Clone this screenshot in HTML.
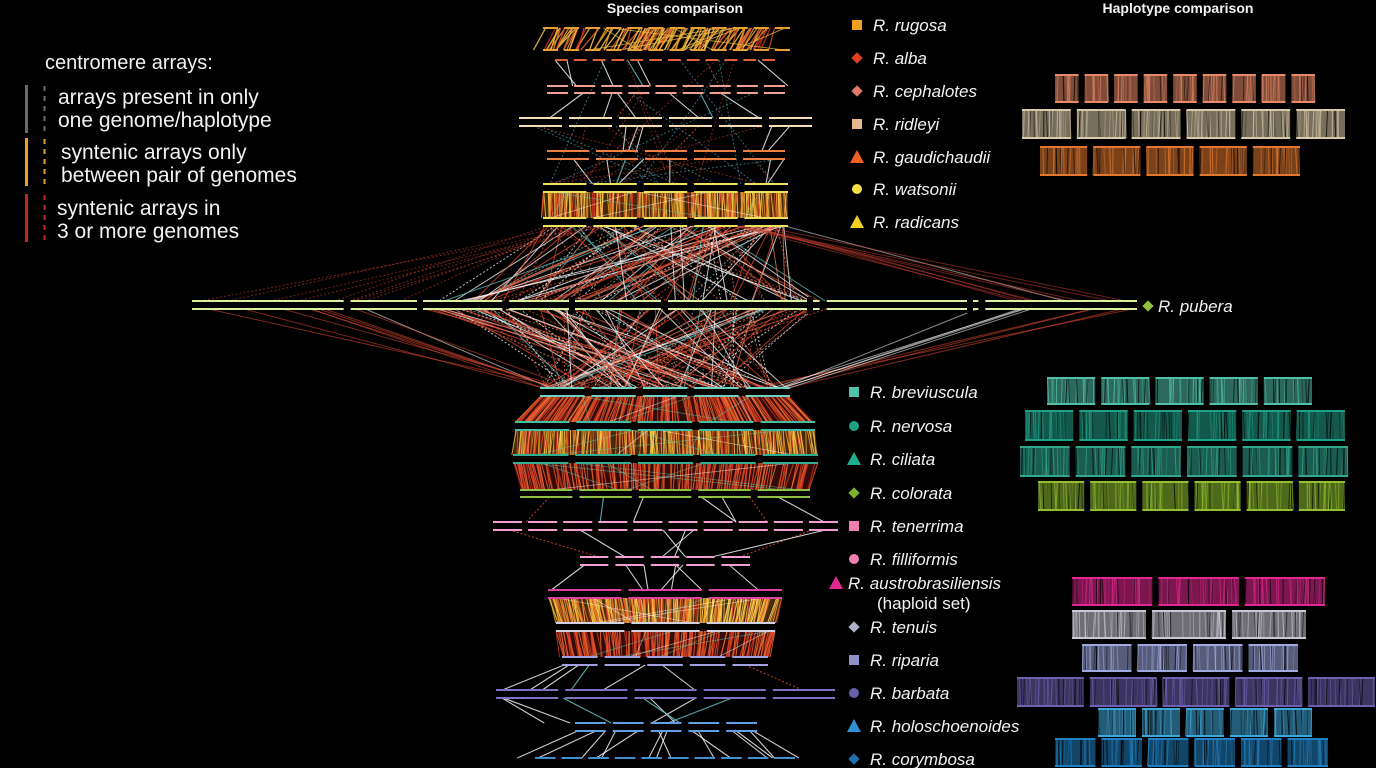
<!DOCTYPE html>
<html><head><meta charset="utf-8"><style>
html,body{margin:0;padding:0;background:#000;width:1376px;height:768px;overflow:hidden}
svg{display:block}
text{font-family:"Liberation Sans",sans-serif}
</style></head><body>
<svg id="s" width="1376" height="768" xmlns="http://www.w3.org/2000/svg">
<rect width="1376" height="768" fill="#000"/>
<g id="links"></g>
<g id="tracks"></g>
<g id="hap"></g>
<text x="45" y="69" fill="#f2f2f2" font-size="20">centromere arrays:</text>
<rect x="25" y="85" width="3" height="48" fill="#6a6a6a"/>
<line x1="44.5" y1="86" x2="44.5" y2="132" stroke="#6a6a6a" stroke-width="2" stroke-dasharray="5,5"/>
<text x="58" y="104" fill="#f2f2f2" font-size="21">arrays present in only</text>
<text x="58" y="127" fill="#f2f2f2" font-size="21">one genome/haplotype</text>
<rect x="25" y="138" width="3" height="48" fill="#e8a030"/>
<line x1="44.5" y1="139" x2="44.5" y2="185" stroke="#e8a030" stroke-width="2" stroke-dasharray="5,5"/>
<text x="61" y="159" fill="#f2f2f2" font-size="21">syntenic arrays only</text>
<text x="61" y="182" fill="#f2f2f2" font-size="21">between pair of genomes</text>
<rect x="25" y="194" width="3" height="48" fill="#c0281e"/>
<line x1="44.5" y1="195" x2="44.5" y2="241" stroke="#c0281e" stroke-width="2" stroke-dasharray="5,5"/>
<text x="57" y="215" fill="#f2f2f2" font-size="21">syntenic arrays in</text>
<text x="57" y="238" fill="#f2f2f2" font-size="21">3 or more genomes</text>
<text x="675" y="13" fill="#f2f2f2" font-size="14" font-weight="bold" text-anchor="middle">Species comparison</text>
<text x="1178" y="13" fill="#f2f2f2" font-size="14" font-weight="bold" text-anchor="middle">Haplotype comparison</text>
<g id="leg" font-size="17" font-style="italic" fill="#f2f2f2"></g>
</svg>
<script>
var NS="http://www.w3.org/2000/svg";
var seed=7;function R(){seed=(seed*16807)%2147483647;return (seed-1)/2147483646;}
function el(p,t,a){var e=document.createElementNS(NS,t);for(var k in a)e.setAttribute(k,a[k]);p.appendChild(e);return e;}
var L=document.getElementById('links'),T=document.getElementById('tracks'),H=document.getElementById('hap'),G=document.getElementById('leg');
var tr=[
 {n:'rug',ys:[28,50],x0:543,x1:790,k:12,c:'#e8a030'},
 {n:'alb',ys:[60],x0:555,x1:775,k:12,c:'#e0603a'},
 {n:'cep',ys:[86,93],x0:547,x1:785,k:9,c:'#f0a090'},
 {n:'rid',ys:[118,126],x0:519,x1:812,k:6,c:'#f4dcb4'},
 {n:'gau',ys:[151,159],x0:547,x1:785,k:5,c:'#f08040'},
 {n:'wat',ys:[184,192],x0:543,x1:788,k:5,c:'#f0e060'},
 {n:'rad',ys:[218,226],x0:543,x1:788,k:5,c:'#f0e060'},
 {n:'pub',ys:[301,309],x0:192,x1:1137,k:6,c:'#d8f0a0'},
 {n:'bre',ys:[388,396],x0:540,x1:790,k:5,c:'#70d0c0'},
 {n:'ner',ys:[422,430],x0:515,x1:815,k:5,c:'#40c0a0'},
 {n:'cil',ys:[455,463],x0:513,x1:818,k:5,c:'#30b090'},
 {n:'col',ys:[490,497],x0:520,x1:810,k:5,c:'#90c040'},
 {n:'ten',ys:[522,530],x0:493,x1:838,k:10,c:'#f0a0d0'},
 {n:'fil',ys:[557,565],x0:580,x1:750,k:5,c:'#f0a0d0'},
 {n:'aus',ys:[590,598],x0:548,x1:782,k:3,c:'#e040a0'},
 {n:'tnu',ys:[623,631],x0:556,x1:775,k:3,c:'#d0d0e0'},
 {n:'rip',ys:[657,665],x0:562,x1:768,k:5,c:'#a0a0e0'},
 {n:'bar',ys:[690,698],x0:496,x1:835,k:5,c:'#8070c0'},
 {n:'hol',ys:[723,731],x0:575,x1:757,k:5,c:'#60a0e0'},
 {n:'cor',ys:[758],x0:535,x1:795,k:10,c:'#4090d0'}
];
function rx(t){return t.x0+R()*(t.x1-t.x0);}
function mapx(x,a,b){return b.x0+(x-a.x0)/(a.x1-a.x0)*(b.x1-b.x0);}
var ix={};tr.forEach(function(t){ix[t.n]=t;});
var dc=['#e04a30','#c83020','#f07030','#e8a030','#f0c040','#ffd050','#e8a030'];
var dr=['#e04a30','#c83020','#f05a30','#d84020','#e87030'];
function dense(a,b,n,cols,fill){var ya=a.ys[a.ys.length-1],yb=b.ys[0];
 el(L,'polygon',{points:a.x0+','+ya+' '+a.x1+','+ya+' '+b.x1+','+yb+' '+b.x0+','+yb,fill:fill,opacity:0.45});
 for(var i=0;i<n;i++){var x=rx(a),x2=mapx(x,a,b)+(R()-0.5)*5;
 el(L,'line',{x1:x,y1:ya,x2:x2,y2:yb,stroke:cols[Math.floor(R()*cols.length)],'stroke-width':1,opacity:0.85});}
 for(var i=0;i<6;i++){el(L,'line',{x1:rx(a),y1:ya,x2:rx(b),y2:yb,stroke:R()<0.5?'#ffffff':'#60d0b0','stroke-width':0.8,opacity:0.5});}}
function sparse(a,b,n){for(var i=0;i<n;i++){var x=rx(a),x2=mapx(x,a,b)+(R()-0.5)*70;
 var c=R()<0.75?'#ffffff':(R()<0.5?'#e04a30':'#70d0d0');var o={x1:x,y1:a.ys[a.ys.length-1],x2:x2,y2:b.ys[0],stroke:c,'stroke-width':1.1,opacity:0.8};
 if(c=='#e04a30')o['stroke-dasharray']='2,2';el(L,'line',o);}}
var seq=['rug','alb','cep','rid','gau','wat','rad','pub','bre','ner','cil','col','ten','fil','aus','tnu','rip','bar','hol','cor'];
for(var i=0;i<seq.length-1;i++){var a=ix[seq[i]],b=ix[seq[i+1]],s=seq[i];
 if(s=='wat')dense(a,b,260,dc,'#a05a10');
 else if(s=='bre')dense(a,b,240,dr,'#701a10');
 else if(s=='ner')dense(a,b,280,dc,'#a05a10');
 else if(s=='cil')dense(a,b,200,dr,'#701a10');
 else if(s=='aus')dense(a,b,280,dc.concat(['#ffe070','#ffb030']),'#a06010');
 else if(s=='tnu')dense(a,b,190,dr,'#701a10');
 else if(s=='rug'){}
 else if(s=='rad'||s=='pub'){}
 else sparse(a,b,s=='hol'?14:7);
}
for(var i=0;i<110;i++){var x=545+R()*243;el(L,'line',{x1:x,y1:28,x2:x-6-R()*14,y2:50,stroke:dc[Math.floor(R()*dc.length)],'stroke-width':1.3,opacity:0.85});}
for(var i=0;i<8;i++){var x=545+R()*243;el(L,'line',{x1:x,y1:28,x2:545+R()*243,y2:50,stroke:'#f0c040','stroke-width':1,opacity:0.7});}
function pl(y1,y2,xa0,xa1,xb0,xb1,n){for(var i=0;i<n;i++){var r=R(),c=r<0.35?'#ffffff':r<0.8?'#e04a30':r<0.9?'#f08060':'#60c0c0';
 var o={x1:xa0+R()*(xa1-xa0),y1:y1,x2:xb0+R()*(xb1-xb0),y2:y2,stroke:c,'stroke-width':1,opacity:0.75};if(R()<0.35)o['stroke-dasharray']='2,2';el(L,'line',o);}}
pl(226,301,543,788,420,830,110);
pl(309,388,420,830,540,790,130);
for(var i=0;i<9;i++){
 el(L,'line',{x1:195+R()*220,y1:301,x2:545+R()*60,y2:226,stroke:'#d04030','stroke-width':1,opacity:0.55,'stroke-dasharray':'2,2'});
 el(L,'line',{x1:1135-R()*160,y1:301,x2:785-R()*60,y2:226,stroke:R()<0.5?'#d04030':'#ffffff','stroke-width':1,opacity:0.5});
 el(L,'line',{x1:195+R()*220,y1:309,x2:540+R()*40,y2:388,stroke:R()<0.5?'#e04a30':'#ffffff','stroke-width':1,opacity:0.55});
 el(L,'line',{x1:1135-R()*160,y1:309,x2:790-R()*40,y2:388,stroke:R()<0.5?'#e04a30':'#ffffff','stroke-width':1,opacity:0.55});}
for(var i=0;i<25;i++){var a=ix[['cep','rid','gau','alb'][Math.floor(R()*4)]];el(L,'line',{x1:rx(a),y1:a.ys[a.ys.length-1],x2:rx(ix['wat']),y2:184,stroke:R()<0.6?'#d04030':'#60c0d0','stroke-width':1,opacity:0.55,'stroke-dasharray':'2,2'});}
tr.forEach(function(t){var w=(t.x1-t.x0),g=t.k>6?6:7,sw=(w-g*(t.k-1))/t.k;
 t.ys.forEach(function(y){for(var j=0;j<t.k;j++){var xs=t.x0+j*(sw+g);el(T,'line',{x1:xs,y1:y,x2:xs+sw,y2:y,stroke:t.c,'stroke-width':2});}});});
[420,572,810,970].forEach(function(x){el(T,'rect',{x:x-3,y:297,width:6,height:16,fill:'#000'});});
var hb=[[1055,1315,75,102,9,'#e88a68'],[1022,1345,110,138,6,'#d8caa8'],[1040,1300,147,175,5,'#e07830'],
[1047,1312,378,404,5,'#50c0a8'],[1025,1345,411,440,6,'#20a088'],[1020,1348,447,476,6,'#30a890'],[1038,1345,482,510,6,'#90c030'],
[1072,1325,578,605,3,'#e02890'],[1072,1306,611,638,3,'#c8c8d4'],[1082,1298,645,671,4,'#a0a8e0'],[1017,1375,678,706,5,'#7060b0'],
[1098,1312,709,736,5,'#40a8d8'],[1055,1328,739,766,6,'#2080c0']];
hb.forEach(function(b){var g=6,w=(b[1]-b[0]-g*(b[4]-1))/b[4];
 for(var j=0;j<b[4];j++){var xs=b[0]+j*(w+g);
  el(H,'rect',{x:xs,y:b[2],width:w,height:b[3]-b[2],fill:b[5],opacity:0.55});
  for(var k=0;k<w/2.5;k++){var x=xs+R()*w;el(H,'line',{x1:x,y1:b[2],x2:x+(R()-0.5)*3,y2:b[3],stroke:R()<0.3?'#000':b[5],'stroke-width':1,opacity:0.3+R()*0.5});}
  el(H,'line',{x1:xs,y1:b[2],x2:xs+w,y2:b[2],stroke:b[5],'stroke-width':2});
  el(H,'line',{x1:xs,y1:b[3],x2:xs+w,y2:b[3],stroke:b[5],'stroke-width':2});}});
var sp=[['sq','#f0a020',857,25,'R. rugosa'],['di','#e04020',857,58,'R. alba'],['di','#e07a6a',857,91,'R. cephalotes'],['sq','#e8b890',857,124,'R. ridleyi'],
['tr','#f06020',857,157,'R. gaudichaudii'],['ci','#f0e040',857,189,'R. watsonii'],['tr','#f0d020',857,222,'R. radicans'],
['di','#90c040',1148,306,'R. pubera'],['sq','#50c0a8',854,392,'R. breviuscula'],['ci','#20a080',854,426,'R. nervosa'],['tr','#20b090',854,459,'R. ciliata'],
['di','#80b030',854,493,'R. colorata'],['sq','#f080b0',854,526,'R. tenerrima'],['ci','#f080b0',854,559,'R. filliformis'],['tr','#e02890',836,583,'R. austrobrasiliensis'],
['di','#b0b0c8',854,627,'R. tenuis'],['sq','#9090c8',854,660,'R. riparia'],['ci','#6860a8',854,693,'R. barbata'],['tr','#3090d0',854,726,'R. holoschoenoides'],['di','#2070b0',854,759,'R. corymbosa']];
sp.forEach(function(s){var x=s[2],y=s[3],c=s[1];
 if(s[0]=='sq')el(G,'rect',{x:x-5,y:y-5,width:10,height:10,fill:c});
 if(s[0]=='di')el(G,'rect',{x:x-4,y:y-4,width:8,height:8,fill:c,transform:'rotate(45 '+x+' '+y+')'});
 if(s[0]=='ci')el(G,'circle',{cx:x,cy:y,r:5,fill:c});
 if(s[0]=='tr')el(G,'polygon',{points:(x-7)+','+(y+6)+' '+(x+7)+','+(y+6)+' '+x+','+(y-7),fill:c});
 var t=el(G,'text',{x:x+(s[2]==836?12:(s[2]==1148?10:16)),y:y+6});t.textContent=s[4];});
var t=el(G,'text',{x:877,y:609,'font-style':'normal'});t.textContent='(haploid set)';
</script>
</body></html>
